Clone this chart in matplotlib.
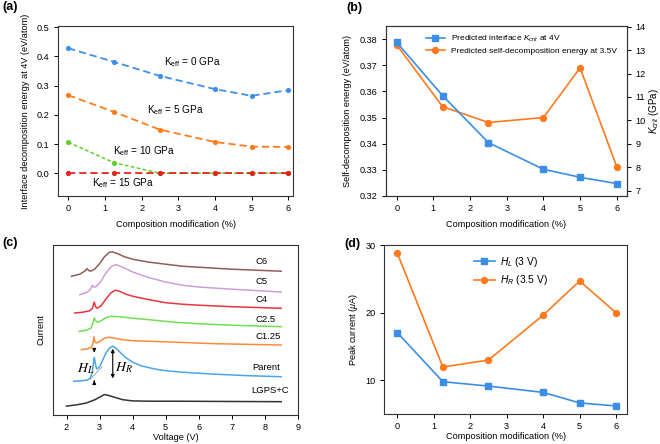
import matplotlib
matplotlib.use("Agg")
import matplotlib.pyplot as plt
import numpy as np

plt.rcParams['font.family'] = ['Liberation Sans', 'DejaVu Sans']
plt.rcParams['mathtext.fontset'] = 'custom'
plt.rcParams['mathtext.rm'] = 'Liberation Sans'
plt.rcParams['mathtext.it'] = 'Liberation Sans:italic'
plt.rcParams['mathtext.bf'] = 'Liberation Sans:bold'
plt.rcParams['axes.edgecolor'] = '#333333'
plt.rcParams['axes.linewidth'] = 0.8
plt.rcParams['xtick.major.size'] = 2.6
plt.rcParams['ytick.major.size'] = 2.6
plt.rcParams['xtick.major.width'] = 0.7
plt.rcParams['ytick.major.width'] = 0.7
plt.rcParams['xtick.labelsize'] = 6.6
plt.rcParams['ytick.labelsize'] = 6.6
plt.rcParams['axes.labelsize'] = 6.6

# ---------------- data ----------------
comp = [0, 1.25, 2.5, 4, 5, 6]

# (a) interface decomposition energy at 4V
keff0 = [0.428, 0.381, 0.333, 0.288, 0.265, 0.284]
keff5 = [0.267, 0.210, 0.149, 0.107, 0.091, 0.090]
keff10 = [0.106, 0.036, 0.0, 0.0, 0.0, 0.0]
keff15 = [0.0, 0.0, 0.0, 0.0, 0.0, 0.0]
keff_labels = [r"K$_{\rm eff}$ = 0 GPa", r"K$_{\rm eff}$ = 5 GPa",
               r"K$_{\rm eff}$ = 10 GPa", r"K$_{\rm eff}$ = 15 GPa"]

# (b)
kcrit = [13.33, 11.06, 9.05, 7.91, 7.57, 7.30]
self_dec = [0.3778, 0.3542, 0.3481, 0.3500, 0.3690, 0.3311]

# (c) CV curves (voltage, current in arbitrary units)
c6_v = [2.15, 2.4, 2.55, 2.62, 2.68, 2.74, 2.85, 3.0, 3.15, 3.3, 3.4, 3.55, 3.75, 4.0, 4.5, 5.0, 5.5, 6.0, 7.0, 8.5]
c6_i = [138.4, 140.5, 143.5, 146.0, 144.0, 143.6, 145.5, 151.0, 158.0, 162.5, 162.7, 161.0, 158.0, 155.5, 152.5, 150.5, 148.5, 147.5, 145.5, 143.5]
c5_v = [2.4, 2.6, 2.72, 2.78, 2.83, 2.92, 3.05, 3.2, 3.35, 3.48, 3.6, 3.8, 4.0, 4.5, 5.0, 5.5, 6.0, 7.0, 8.5]
c5_i = [120.0, 122.0, 125.0, 129.4, 127.4, 128.5, 134.0, 142.0, 148.0, 150.0, 149.0, 146.0, 142.7, 137.0, 132.7, 129.5, 127.7, 125.5, 122.7]
c4_v = [2.25, 2.5, 2.7, 2.78, 2.84, 2.88, 2.93, 3.05, 3.2, 3.35, 3.48, 3.6, 3.8, 4.0, 4.5, 5.0, 5.5, 6.0, 7.0, 8.5]
c4_i = [101.7, 102.5, 104.0, 106.0, 112.7, 108.0, 106.5, 109.0, 116.0, 122.0, 124.5, 123.5, 120.5, 118.5, 115.0, 112.0, 110.5, 109.5, 108.0, 106.4]
c25_v = [2.38, 2.6, 2.74, 2.79, 2.84, 2.88, 2.94, 3.05, 3.2, 3.32, 3.6, 4.0, 4.5, 5.3, 6.0, 7.0, 8.5]
c25_i = [83.4, 84.5, 86.5, 91.0, 96.7, 94.0, 92.5, 94.0, 97.0, 98.4, 98.0, 96.5, 95.0, 92.4, 91.0, 89.5, 88.0]
c125_v = [2.45, 2.65, 2.76, 2.8, 2.83, 2.86, 2.9, 3.0, 3.15, 3.28, 3.45, 3.7, 4.0, 5.3, 6.5, 8.5]
c125_i = [65.0, 66.0, 67.5, 71.0, 77.7, 73.0, 71.7, 73.0, 76.5, 77.5, 76.5, 75.0, 74.0, 72.5, 71.0, 69.7]
par_v = [2.22, 2.5, 2.65, 2.72, 2.77, 2.81, 2.84, 2.87, 2.91, 2.96, 3.02, 3.1, 3.2, 3.3, 3.4, 3.5, 3.65, 3.8, 4.0, 4.3, 4.7, 5.0, 5.5, 6.5, 7.5, 8.5]
par_i = [33.4, 34.0, 35.0, 37.0, 41.0, 50.0, 57.4, 52.0, 46.0, 46.5, 49.0, 55.0, 62.0, 66.5, 68.5, 66.5, 61.5, 57.0, 52.5, 48.5, 45.5, 44.0, 42.5, 40.5, 39.0, 38.0]
lgps_v = [2.0, 2.3, 2.6, 2.86, 3.0, 3.15, 3.3, 3.5, 3.7, 4.0, 4.5, 5.3, 6.5, 8.5]
lgps_i = [8.6, 9.8, 11.7, 15.0, 17.5, 20.2, 19.0, 17.0, 15.0, 13.8, 13.5, 13.5, 13.3, 13.0]
curve_names = ["C6", "C5", "C4", "C2.5", "C1.25", "Parent", "LGPS+C"]

# (d)
hl = [17.05, 9.75, 9.10, 8.16, 6.60, 6.15]
hr = [28.86, 11.93, 12.96, 19.63, 24.70, 19.97]

# ---------------- figure ----------------
W, H = 660, 444
fig = plt.figure(figsize=(6.6, 4.44), dpi=100)

def ax_px(l, t, r, b):
    return fig.add_axes([l / W, 1 - b / H, (r - l) / W, (b - t) / H])

blue = '#3a8ee6'
orange = '#ff7a1f'

# ---- (a)
axa = ax_px(58, 26, 293.3, 196)
axa.plot(comp, keff0, '--', color='#3d90e8', lw=1.3, dashes=(4, 2.2), marker='o', ms=2.7)
axa.plot(comp, keff5, '--', color='#ff7b1c', lw=1.3, dashes=(4, 2.2), marker='o', ms=2.7)
axa.plot(comp, keff10, '--', color='#5ed12c', lw=1.1, dashes=(2.5, 1.5), marker='o', ms=2.7)
axa.plot(comp, keff15, '--', color='#e6241d', lw=1.3, dashes=(4, 2.2), marker='o', ms=2.7)
axa.set_xlim(-0.28, 6.14)
axa.set_ylim(-0.078, 0.504)
axa.set_xticks(range(7))
axa.set_yticks([0.0, 0.1, 0.2, 0.3, 0.4, 0.5])
axa.set_xlabel("Composition modification (%)")
axa.set_ylabel("Interface decomposition energy at 4V (eV/atom)")
axa.xaxis.set_label_coords(0.5, -0.14)
axa.yaxis.set_label_coords(-0.12, 0.5)
for (x, y), s in zip([(2.6, 0.381), (2.15, 0.217), (1.22, 0.076), (0.64, -0.034)], keff_labels):
    axa.text(x, y, s, fontsize=7.2, va='center', ha='left')
fig.text(2 / W, 1 - 7 / H, "(a)", fontsize=9, fontweight='bold', va='center', ha='left')

# ---- (b)
axb = ax_px(385.7, 26, 626.7, 196)
axb2 = axb.twinx()
l1, = axb2.plot(comp, kcrit, '-', color=blue, lw=1.2, marker='s', ms=4.3,
                label=r"Predicted interface $K_{crit}$ at 4V")
l2, = axb.plot(comp, self_dec, '-', color=orange, lw=1.2, marker='o', ms=4.3,
               label="Predicted self-decomposition energy at 3.5V")
axb.set_xlim(-0.3, 6.27)
axb.set_ylim(0.32, 0.385)
axb.set_yticks([0.32, 0.33, 0.34, 0.35, 0.36, 0.37, 0.38])
axb2.set_ylim(6.77, 14.03)
axb2.set_yticks(range(7, 15))
axb.set_xticks(range(7))
axb.set_xlabel("Composition modification (%)")
axb.set_ylabel("Self-decomposition energy (eV/atom)")
axb2.set_ylabel(r"$K_{crit}$ (GPa)", fontsize=7.0)
axb.xaxis.set_label_coords(0.5, -0.14)
axb.yaxis.set_label_coords(-0.14, 0.5)
axb2.yaxis.set_label_coords(1.085, 0.5)
axb.legend(handles=[l1, l2], loc='upper left', bbox_to_anchor=(0.135, 1.0), frameon=False,
           fontsize=6.05, handlelength=2.3, handletextpad=0.75, labelspacing=0.45)
fig.text(346 / W, 1 - 8 / H, "(b)", fontsize=9, fontweight='bold', va='center', ha='left')

# ---- (c)
axc = ax_px(53.3, 244.7, 297.7, 414.7)
curves = [(c6_v, c6_i, '#8e5d57'), (c5_v, c5_i, '#c9a0d6'), (c4_v, c4_i, '#ea3440'),
          (c25_v, c25_i, '#6ee04f'), (c125_v, c125_i, '#ff8a3a'),
          (par_v, par_i, '#4ba4ec'), (lgps_v, lgps_i, '#333333')]
for v, i, c in curves:
    axc.plot(v, i, '-', color=c, lw=1.1, solid_joinstyle='round')
label_pos = [(7.72, 153.7), (7.72, 133.0), (7.72, 115.7), (7.72, 95.7), (7.72, 78.0),
             (7.62, 47.4), (7.6, 24.0)]
for (x, y), s in zip(label_pos, curve_names):
    axc.text(x, y, s, fontsize=6.8, va='center', ha='left')
# baseline and arrows for H_L / H_R
axc.plot([2.72, 3.08], [35.5, 48.0], '-', color='#999999', lw=0.6)
ak = dict(arrowstyle='-|>', color='black', lw=0.8, mutation_scale=5)
axc.annotate('', xy=(2.84, 59.5), xytext=(2.84, 66.5), arrowprops=ak)
axc.annotate('', xy=(2.84, 37.0), xytext=(2.84, 30.5), arrowprops=ak)
axc.annotate('', xy=(3.4, 68.8), xytext=(3.4, 33.5),
             arrowprops=dict(arrowstyle='<|-|>', color='black', lw=0.8, mutation_scale=5))
axc.text(2.58, 46.5, r"$H_L$", fontsize=10, math_fontfamily='stix', ha='center', va='center')
axc.text(3.47, 47.5, r"$H_R$", fontsize=10, math_fontfamily='stix', ha='left', va='center')
axc.set_xlim(1.6, 9.0)
axc.set_ylim(0, 170)
axc.set_xticks(range(2, 10))
axc.set_yticks([])
axc.set_xlabel("Voltage (V)")
axc.set_ylabel("Current")
axc.xaxis.set_label_coords(0.5, -0.11)
axc.yaxis.set_label_coords(-0.03, 0.5)
fig.text(2 / W, 1 - 243 / H, "(c)", fontsize=9, fontweight='bold', va='center', ha='left')

# ---- (d)
axd = ax_px(384.3, 245.3, 626.7, 413.7)
d1, = axd.plot(comp, hl, '-', color=blue, lw=1.2, marker='s', ms=4.3, label=r"$H_L$ (3 V)")
d2, = axd.plot(comp, hr, '-', color=orange, lw=1.2, marker='o', ms=4.3, label=r"$H_R$ (3.5 V)")
axd.set_xlim(-0.355, 6.29)
axd.set_ylim(5, 30)
axd.set_yticks([10, 20, 30])
axd.set_xticks(range(7))
axd.set_xlabel("Composition modification (%)")
axd.set_ylabel(r"Peak current ($\mu$A)")
axd.xaxis.set_label_coords(0.5, -0.11)
axd.yaxis.set_label_coords(-0.1, 0.5)
axd.legend(handles=[d1, d2], loc='upper left', bbox_to_anchor=(0.33, 1.0), frameon=False,
           fontsize=7.4, handlelength=2.1, handletextpad=0.5, labelspacing=0.45)
fig.text(344 / W, 1 - 244 / H, "(d)", fontsize=9, fontweight='bold', va='center', ha='left')

fig.savefig("out.png", dpi=100)
